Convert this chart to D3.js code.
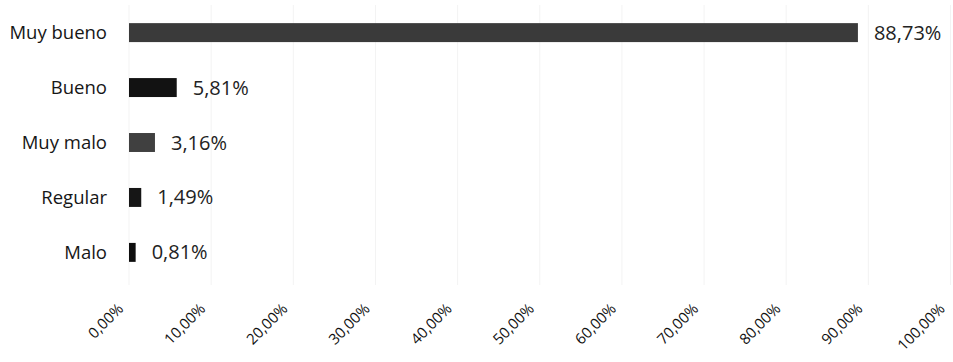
<!DOCTYPE html>
<html>
<head>
<meta charset="utf-8">
<script src="https://cdn.jsdelivr.net/npm/d3@7"></script>
<style>
  html, body { margin: 0; padding: 0; background: #fff; }
  svg { display: block; font-family: "Open Sans", "DejaVu Sans", sans-serif; }
</style>
</head>
<body>
<svg id="chart" width="953" height="362"></svg>
<script>
// Rating categories, top to bottom
const categories = ["Muy bueno", "Bueno", "Muy malo", "Regular", "Malo"];
// Share of responses (percent)
const values = [88.73, 5.81, 3.16, 1.49, 0.81];
// Bar fills per category
const fills = ["#3a3a3a", "#121212", "#404040", "#161616", "#0e0e0e"];
// X-axis ticks (percent)
const ticks = [0, 10, 20, 30, 40, 50, 60, 70, 80, 90, 100];

const svg = d3.select("#chart");
const W = 953, H = 362;

const x = d3.scaleLinear().domain([0, 100]).range([129, 950.5]);
const y = d3.scaleBand().domain(categories).range([5, 280]).paddingInner(0.655).paddingOuter(0.33);

const fmt = v => v.toFixed(2).replace(".", ",") + "%";

// Faint vertical gridlines
svg.append("g").selectAll("line").data(ticks).join("line")
  .attr("x1", d => x(d)).attr("x2", d => x(d))
  .attr("y1", 5).attr("y2", 285)
  .attr("stroke", "#f3f3f3").attr("stroke-width", 1);

// Bars
svg.append("g").selectAll("rect").data(categories).join("rect")
  .attr("x", x(0))
  .attr("y", d => y(d))
  .attr("width", (d, i) => x(values[i]) - x(0))
  .attr("height", y.bandwidth())
  .attr("fill", (d, i) => fills[i]);

// Category labels
svg.append("g").selectAll("text").data(categories).join("text")
  .attr("x", 107)
  .attr("y", d => y(d) + y.bandwidth() / 2)
  .attr("dy", "0.35em")
  .attr("text-anchor", "end")
  .attr("font-size", 18.5)
  .attr("fill", "#161616")
  .text(d => d);

// Value labels
svg.append("g").selectAll("text").data(categories).join("text")
  .attr("x", (d, i) => x(values[i]) + 16)
  .attr("y", d => y(d) + y.bandwidth() / 2)
  .attr("dy", "0.35em")
  .attr("font-size", 20)
  .attr("fill", "#222")
  .text((d, i) => fmt(values[i]));

// X-axis with rotated tick labels
const axis = d3.axisBottom(x).tickValues(ticks).tickSize(0).tickFormat(fmt);
const gx = svg.append("g").attr("transform", "translate(0,306)").call(axis);
gx.select(".domain").remove();
gx.selectAll(".tick text")
  .attr("font-size", 15)
  .attr("font-family", "'Open Sans', sans-serif")
  .attr("fill", "#111")
  .attr("text-anchor", "end")
  .attr("x", 0).attr("y", 0)
  .attr("dy", "0.35em")
  .attr("transform", "translate(-9,0) rotate(-45)");
</script>
</body>
</html>
